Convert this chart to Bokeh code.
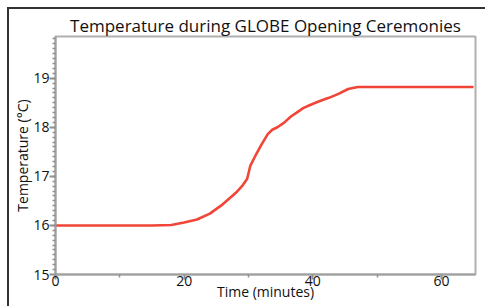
from bokeh.plotting import figure
from bokeh.models import FixedTicker, Range1d
from bokeh.embed import file_html
from bokeh.resources import INLINE

time_min = [0, 5, 10, 15, 18, 20, 22, 24, 26, 28, 29, 29.8, 30.3, 31, 32, 33, 33.7, 34.5, 35.5, 36.6, 37.5, 38.5, 39.5, 41, 42.5, 44, 45.5, 47, 50, 55, 60, 65]
temp_c = [16.0, 16.0, 16.0, 16.0, 16.01, 16.06, 16.12, 16.24, 16.43, 16.66, 16.8, 16.95, 17.22, 17.4, 17.64, 17.86, 17.95, 18.0, 18.09, 18.22, 18.3, 18.39, 18.45, 18.53, 18.6, 18.68, 18.78, 18.82, 18.82, 18.82, 18.82, 18.82]
x_ticks = [0, 20, 40, 60]
x_minor = [10, 30, 50]
y_ticks = [15, 16, 17, 18, 19]

FONT = "Open Sans"

p = figure(width=478, height=299, output_backend="svg", toolbar_location=None,
           x_range=Range1d(0, 65.3), y_range=Range1d(15, 19.85),
           title="Temperature during GLOBE Opening Ceremonies",
           min_border_left=46, min_border_right=12, min_border_top=27, min_border_bottom=34)
p.styles = {"border-left": "2px solid #333", "border-top": "2px solid #333",
            "box-sizing": "border-box", "margin-left": "7px", "margin-top": "7px"}

p.line(time_min, temp_c, line_color="#ef3b2c", line_width=2.6, line_alpha=0.95)

p.title.align = "center"
p.title.text_font = FONT
p.title.text_font_size = "17px"
p.title.text_font_style = "normal"
p.title.text_color = "#111111"
p.title.offset = 0
p.title.standoff = 0

p.grid.visible = False
p.outline_line_color = "#b0b0b0"
p.outline_line_width = 2
p.background_fill_color = "white"
p.border_fill_color = "white"

xa = p.xaxis[0]
xa.ticker = FixedTicker(ticks=x_ticks, minor_ticks=x_minor)
xa.axis_label = "Time (minutes)"
ya = p.yaxis[0]
ya.ticker = FixedTicker(ticks=y_ticks, minor_ticks=[15 + i * 0.1 for i in range(1, 49)])
ya.axis_label = "Temperature (°C)"

for ax in (xa, ya):
    ax.axis_line_color = "#a0a0a0"
    ax.axis_line_width = 2
    ax.major_tick_line_color = "#909090"
    ax.major_tick_line_width = 2
    ax.major_tick_out = 6
    ax.major_tick_in = 0
    ax.minor_tick_line_color = "#909090"
    ax.minor_tick_line_width = 1.5
    ax.minor_tick_out = 3
    ax.minor_tick_in = 0
    ax.major_label_text_font = FONT
    ax.major_label_text_font_size = "14px"
    ax.major_label_text_color = "#111111"
    ax.axis_label_text_font = FONT
    ax.axis_label_text_font_size = "14px"
    ax.axis_label_text_font_style = "normal"
    ax.axis_label_text_color = "#111111"

xa.major_tick_out = 5
xa.major_label_standoff = -4
xa.axis_label_standoff = -7
ya.major_label_standoff = 0
ya.axis_label_standoff = -2

open("out.html", "w").write(file_html(p, INLINE))
